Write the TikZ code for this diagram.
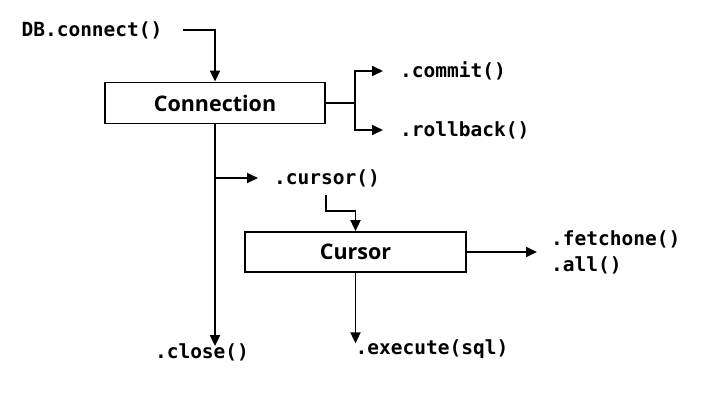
\documentclass[tikz,border=0pt]{standalone}
\usepackage{fontspec}
\setmonofont{DejaVu Sans Mono}
\newfontfamily\boxfont{Open Sans}
\usetikzlibrary{arrows.meta}
\begin{document}
\begin{tikzpicture}[x=1pt,y=-1pt,
  code/.style={inner sep=0pt,font=\fontsize{19.5}{26}\selectfont\ttfamily\bfseries},
  box/.style={draw,line width=1.8pt,inner sep=0pt,font=\fontsize{21.5}{26}\selectfont\boxfont\bfseries},
  arr/.style={line width=1.8pt,-{Triangle[length=11pt,width=10pt]}},
  ln/.style={line width=1.8pt}]
\useasboundingbox (0,0) rectangle (710,401);
\node[code] (dbc) at (92,30) {DB.connect()};
\node[box,minimum width=220pt,minimum height=41pt] (conn) at (215,103) {Connection};
\node[code,anchor=west] (commit) at (400,71) {.commit()};
\node[code,anchor=west] (rollback) at (400,130) {.rollback()};
\node[code,anchor=west] (curlbl) at (274,178) {.cursor()};
\node[box,minimum width=221pt,minimum height=40pt] (cur) at (355.5,252) {Cursor};
\node[code,anchor=west,align=left] (fetch) at (551,252) {.fetchone()\\.all()};
\node[code] (close) at (202,352) {.close()};
\node[code] (exec) at (432,349) {.execute(sql)};
\coordinate (fork) at (355,103);
% connectors
\draw[arr] ([xshift=20pt]dbc.east) -| (conn.north);
\draw[ln] (conn.east) -- (fork);
\draw[arr] (fork) |- ([xshift=-17pt]commit.west);
\draw[arr] (fork) |- ([xshift=-17pt]rollback.west);
\draw[arr] (conn.south) -- ([yshift=-3pt]conn.south |- close.north);
\draw[arr] (conn.south |- curlbl.west) -- ([xshift=-16pt]curlbl.west);
\draw[arr] ([xshift=-1pt,yshift=-8pt]curlbl.south) -- ++(0,16) -| (cur.north);
\draw[arr] (cur.east) -- ([xshift=-14pt]cur.east -| fetch.west);
\draw[arr] (cur.south) -- ([yshift=-4pt]cur.south |- exec.north);
\end{tikzpicture}
\end{document}
